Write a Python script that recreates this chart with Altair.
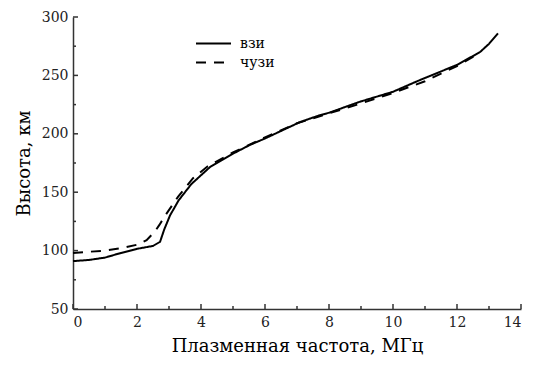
import altair as alt
import pandas as pd

# взи (solid)
vzi_x = [0.0, 0.5, 1.0, 1.5, 2.0, 2.5, 2.72, 2.85, 3.03, 3.3, 3.7, 4.28, 5.0, 5.53, 6.0, 7.09, 7.72, 8.0, 8.97, 10.0, 10.84, 12.0, 12.72, 13.0, 13.28]
vzi_y = [91, 92, 94, 98, 101.5, 104, 107.5, 118, 130, 143, 157, 171.5, 183, 190.5, 196, 210, 216, 218, 227.5, 236, 246, 259, 270, 277, 286]
# чузи (dashed)
chuzi_x = [0.0, 0.5, 1.0, 1.5, 2.0, 2.3, 2.55, 2.7, 2.88, 3.28, 3.75, 4.2, 5.0, 6.0, 7.0, 8.0, 9.0, 10.0, 11.0, 12.0, 12.7]
chuzi_y = [98, 99, 100, 102, 105, 109, 116, 122, 130, 146, 162, 172, 184, 197, 209, 217.5, 226, 235, 245, 258, 269]

x_major = [0, 2, 4, 6, 8, 10, 12, 14]
x_minor = [1, 3, 5, 7, 9, 11, 13]
y_major = [50, 100, 150, 200, 250, 300]
y_minor = [75, 125, 175, 225, 275]

series_names = ["взи", "чузи"]

rows = []
for x, y in zip(vzi_x, vzi_y):
    rows.append({"f": x, "h": y, "s": series_names[0]})
for x, y in zip(chuzi_x, chuzi_y):
    rows.append({"f": x, "h": y, "s": series_names[1]})
df = pd.DataFrame(rows)

W, H = 448, 292
FONT = "DejaVu Serif"

xs = alt.Scale(domain=[0, 14], nice=False)
ys = alt.Scale(domain=[50, 300], nice=False)

lines = alt.Chart(df).mark_line(color="black", strokeWidth=2).encode(
    x=alt.X("f:Q", scale=xs, title="Плазменная частота, МГц",
            axis=alt.Axis(values=x_major, format="d", tickSize=0, labelPadding=6,
                          domainColor="#333", domainWidth=1.5, labelColor="#222",
                          labelFont=FONT, labelFontSize=14, titleFont=FONT,
                          titleFontSize=18, titleFontWeight="normal", titleColor="black",
                          titlePadding=8, grid=False)),
    y=alt.Y("h:Q", scale=ys, title="Высота, км",
            axis=alt.Axis(values=y_major, tickSize=0, labelPadding=5,
                          domainColor="#333", domainWidth=1.5, labelColor="#222",
                          labelFont=FONT, labelFontSize=14, titleFont=FONT,
                          titleFontSize=18, titleFontWeight="normal", titleColor="black",
                          titlePadding=8, grid=False)),
    strokeDash=alt.StrokeDash("s:N", scale=alt.Scale(domain=series_names, range=[[1, 0], [10, 8]]),
                              legend=alt.Legend(title=None, orient="none", legendX=122, legendY=19,
                                                symbolType="stroke", symbolSize=1225,
                                                symbolStrokeWidth=2, symbolStrokeColor="black",
                                                clipHeight=15, rowPadding=4,
                                                labelFont=FONT, labelFontSize=14, labelColor="black",
                                                labelOffset=8)),
)

def xticks(vals, length):
    return alt.Chart(pd.DataFrame({"v": vals})).mark_rule(color="#333", strokeWidth=1.5).encode(
        x=alt.X("v:Q", scale=xs), y=alt.value(H), y2=alt.value(H - length))

def yticks(vals, length):
    return alt.Chart(pd.DataFrame({"w": vals})).mark_rule(color="#333", strokeWidth=1.5).encode(
        y=alt.Y("w:Q", scale=ys), x=alt.value(0), x2=alt.value(length))

chart = alt.layer(
    lines, xticks(x_major, 5), xticks(x_minor, 3), yticks(y_major, 5), yticks(y_minor, 3)
).properties(
    width=W, height=H,
    autosize=alt.AutoSizeParams(type="none"),
    padding={"left": 73, "top": 17, "right": 13, "bottom": 56},
).configure_view(stroke=None)

chart.save("out.html", embed_options={"renderer": "svg", "actions": False})
